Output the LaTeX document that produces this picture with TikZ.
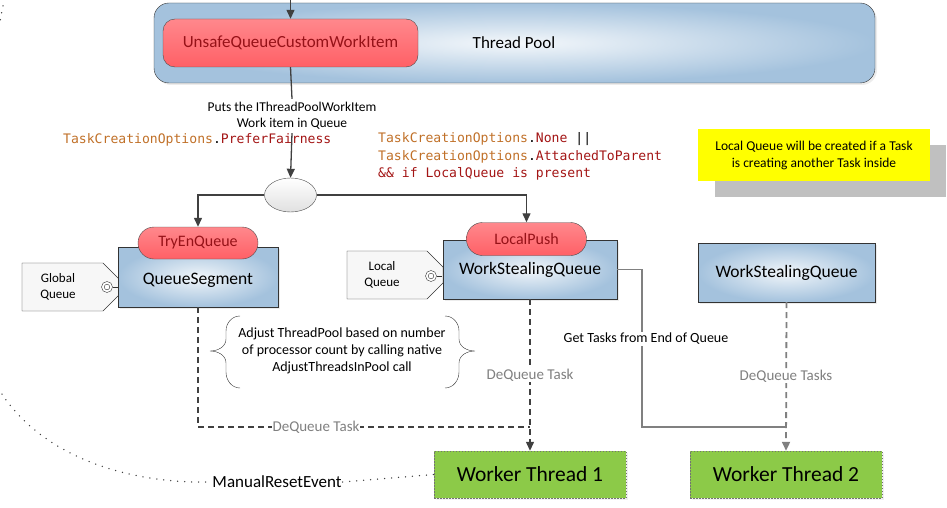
\documentclass[tikz,border=0pt]{standalone}
\usepackage{fontspec}
\setmainfont{Carlito}
\newfontfamily\codefont{DejaVu Sans Mono}
\usetikzlibrary{arrows.meta,shapes.geometric,shadows}
\definecolor{poolblue}{RGB}{164,194,221}
\definecolor{pillred}{RGB}{255,96,102}
\definecolor{pilltext}{RGB}{150,18,24}
\definecolor{codeorange}{RGB}{192,112,40}
\definecolor{codered}{RGB}{163,21,21}
\definecolor{workgreen}{RGB}{140,202,72}
\definecolor{noteyellow}{RGB}{255,255,0}
\definecolor{noteshadow}{RGB}{192,192,192}
\definecolor{linegray}{RGB}{64,64,64}
\definecolor{softgray}{RGB}{128,128,128}
\tikzset{
  tip/.style={-{Triangle[length=9pt,width=8pt]}},
  bluebox/.style={draw=black!80, inner color=white!85!poolblue, outer color=poolblue,
    drop shadow={opacity=0.15,shadow xshift=2pt,shadow yshift=-2pt}},
  redpill/.style={draw=black!70, top color=pillred!75!white, bottom color=pillred,
    text=pilltext, font=\fontsize{16}{19}\selectfont},
  worker/.style={draw=black!55, dash pattern=on 1.5pt off 1.5pt, fill=workgreen,
    minimum width=192pt, minimum height=47pt, font=\fontsize{21.5}{26}\selectfont,
    drop shadow={opacity=0.12,shadow xshift=2pt,shadow yshift=-2pt}},
  taglabel/.style={font=\fontsize{13}{16}\selectfont, align=center},
  dqlabel/.style={text=softgray, font=\fontsize{15}{18}\selectfont, fill=white, inner sep=1pt},
  dots/.style={dash pattern=on 0pt off 7pt, line cap=round, line width=1.5pt, black!75},
}
\newcommand{\tagshape}[3]{% left, top, right
  \draw[black!80, fill=black!3] (#1,#2) -- (#3-16,#2) -- (#3,#2+16) -- (#3,#2+32) -- (#3-16,#2+48) -- (#1,#2+48) -- cycle;}
\newcommand{\portmark}[2]{%
  \draw[black!80, fill=white] (#1,#2) circle (5.5); \draw[black!80] (#1,#2) circle (2.8);
  \draw[black!80] (#1+5.5,#2) -- (#1+11,#2);}

\begin{document}
\begin{tikzpicture}[x=1pt,y=-1pt]
  \useasboundingbox (0,0) rectangle (947,508);

  %%%%% POOL %%%%%
  \node[bluebox, rounded corners=15pt, minimum width=721pt, minimum height=80pt,
    inner color=white!88!poolblue] (pool) at (514.5,43) {};
  \node[font=\fontsize{17}{20}\selectfont] (poolname) at (514,43) {Thread Pool};
  \node[redpill, rounded corners=12pt, minimum width=255pt, minimum height=48pt,
    font=\fontsize{17}{20}\selectfont] (unsafe) at (290.5,43) {UnsafeQueueCustomWorkItem};
  \coordinate (entry) at (290.5,0);
  \draw[linegray, line width=1.3pt, tip] (entry) -- (unsafe.north);

  \node[align=center, font=\fontsize{13.5}{16}\selectfont] (puts) at (292,116)
    {Puts the IThreadPoolWorkItem\\Work item in Queue};
  \node[ellipse, draw=black!70, top color=white, bottom color=black!12,
    minimum width=52pt, minimum height=34pt] (fork) at (290.5,195) {};
  \draw[linegray, line width=1.3pt] (unsafe.south) -- (puts.north);
  \draw[linegray, line width=1.3pt, tip] (puts.south) -- (fork.north);

  %%%%% CODE %%%%%
  \node[anchor=west, inner sep=0pt, font=\codefont\fontsize{13.1}{17}\selectfont] (fair) at (63,139.5)
    {\textcolor{codeorange}{TaskCreationOptions}.\textcolor{codered}{PreferFairness}};
  \node[anchor=north west, inner sep=0pt, align=left, font=\codefont\fontsize{13.1}{17.5}\selectfont] (cond) at (378,132.5)
    {\textcolor{codeorange}{TaskCreationOptions}.\textcolor{codered}{None} ||\\
     \textcolor{codeorange}{TaskCreationOptions}.\textcolor{codered}{AttachedToParent}\\
     \textcolor{codered}{\&\& if LocalQueue is present}};

  %%%%% NOTE %%%%%
  \fill[noteshadow] (715,145) rectangle (946,197);
  \node[fill=noteyellow, minimum width=232pt, minimum height=52pt, align=center,
    font=\fontsize{13.5}{17}\selectfont] (note) at (814,155)
    {Local Queue will be created if a Task\\is creating another Task inside};

  %%%%% QUEUES %%%%%
  \tagshape{22}{263}{119}
  \portmark{107}{287}
  \node[taglabel] (global) at (58,287) {Global\\Queue};
  \node[bluebox, minimum width=160pt, minimum height=60pt, text depth=0pt,
    font=\fontsize{17.5}{20}\selectfont] (qseg) at (198,277) {\raisebox{-3pt}{QueueSegment}};
  \node[redpill, rounded corners=16pt, minimum width=120pt, minimum height=32pt] (tryenq) at (198,243) {TryEnQueue};

  \tagshape{347}{251}{443}
  \portmark{431}{276}
  \node[taglabel] (local) at (382,275) {Local\\Queue};
  \node[bluebox, minimum width=174pt, minimum height=59pt,
    font=\fontsize{17.5}{20}\selectfont] (wsq1) at (530,269.5) {WorkStealingQueue};
  \node[redpill, rounded corners=16pt, minimum width=120pt, minimum height=33pt] (lpush) at (526.5,239) {LocalPush};

  \node[bluebox, minimum width=177pt, minimum height=59pt,
    font=\fontsize{17.5}{20}\selectfont] (wsq2) at (786.5,272.5) {WorkStealingQueue};

  \draw[linegray, line width=1.3pt, tip] (fork.west) -| (tryenq.north);
  \draw[linegray, line width=1.3pt, tip] (fork.east) -| (lpush.north);

  %%%%% BRACES %%%%%
  \draw[black!80] (240,316) to[out=180,in=90] (226,331) -- (226,339) to[out=-90,in=0] (210,351)
    to[out=0,in=90] (226,363) -- (226,372) to[out=-90,in=180] (240,388);
  \draw[black!80] (445,316) to[out=0,in=90] (459,331) -- (459,339) to[out=-90,in=180] (475,351)
    to[out=180,in=90] (459,363) -- (459,372) to[out=-90,in=0] (445,388);
  \node[align=center, font=\fontsize{14}{17}\selectfont] (adjust) at (342,351)
    {Adjust ThreadPool based on number\\of processor count by calling native\\AdjustThreadsInPool call};

  %%%%% WORKERS %%%%%
  \node[worker] (wt1) at (530,474.5) {Worker Thread 1};
  \node[worker] (wt2) at (786,474.5) {Worker Thread 2};

  \coordinate (join1) at (530,427);
  \coordinate (bend) at (642,427);
  \draw[linegray, line width=1.3pt, dash pattern=on 6pt off 4pt] (qseg.south) |- (join1);
  \draw[linegray, line width=1.3pt, dash pattern=on 6pt off 4pt, tip] (wsq1.south) -- (wt1.north);
  \node[dqlabel] (dq1) at (316,427) {DeQueue Task};
  \node[dqlabel] (dq2) at (530,375) {DeQueue Task};

  \draw[softgray, line width=1.3pt] (wsq1.east) -| (bend) -- (bend -| wt2.north);
  \draw[softgray, line width=1.8pt, dash pattern=on 6pt off 4pt, tip] (wsq2.south) -- (wt2.north);
  \node[fill=white, inner sep=1pt, font=\fontsize{14}{17}\selectfont] (gettasks) at (646,339) {Get Tasks from End of Queue};
  \node[dqlabel] (dq3) at (786,376) {DeQueue Tasks};

  %%%%% EVENT %%%%%
  \node[font=\fontsize{17}{20}\selectfont, inner sep=1pt] (mre) at (277,482) {ManualResetEvent};
  \coordinate (farleft) at (2,394);
  \coordinate (topleft) at (4,-1);
  \coordinate (topleftend) at (0,22);
  \draw[dots] (farleft) .. controls (40,452) and (120,484) .. (mre.west);
  \draw[dots] (mre.east) -- (wt1.west);
  \draw[dots] (topleft) .. controls (3,8) and (1,15) .. (topleftend);
\end{tikzpicture}
\end{document}
